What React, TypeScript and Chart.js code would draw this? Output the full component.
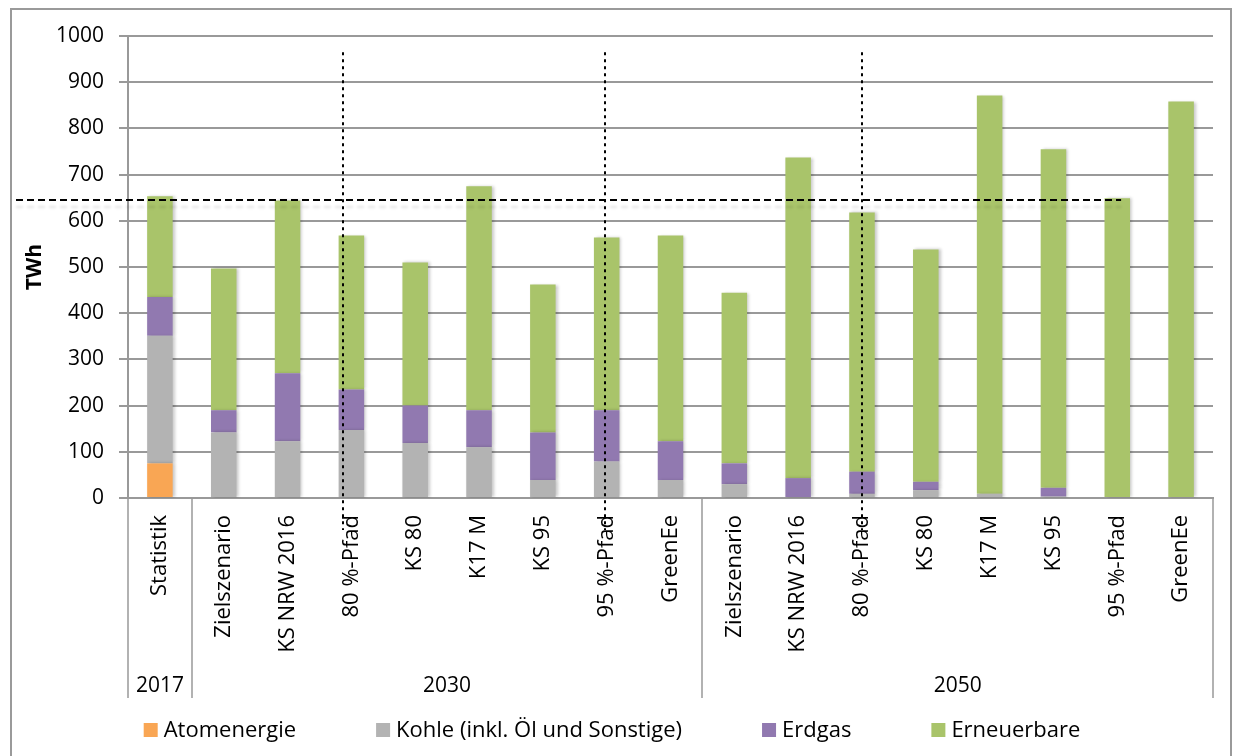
import React, { useEffect, useRef } from 'react';
import { Chart, registerables } from 'chart.js';

Chart.register(...registerables);

// ---------- data ----------
const categories = [
  'Statistik',
  'Zielszenario', 'KS NRW 2016', '80 %-Pfad', 'KS 80', 'K17 M', 'KS 95', '95 %-Pfad', 'GreenEe',
  'Zielszenario', 'KS NRW 2016', '80 %-Pfad', 'KS 80', 'K17 M', 'KS 95', '95 %-Pfad', 'GreenEe',
];
const groupLabels = ['2017', '2030', '2050'];
const groupSizes = [1, 8, 8];

const atomenergie = [75, 0, 0, 0, 0, 0, 0, 0, 0, 0, 0, 0, 0, 0, 0, 0, 0];
const kohle = [276, 142, 123, 147, 119, 110, 39, 79, 39, 30, 0, 9, 17, 9, 3, 0, 0];
const erdgas = [84, 48, 147, 88, 81, 80, 103, 111, 84, 45, 43, 48, 18, 0, 19, 0, 0];
const erneuerbare = [218, 307, 374, 333, 310, 485, 320, 374, 445, 369, 694, 561, 503, 862, 733, 649, 858];

const seriesNames = ['Atomenergie', 'Kohle (inkl. Öl und Sonstige)', 'Erdgas', 'Erneuerbare'];
const seriesColors = ['#F9A654', '#B3B3B3', '#9179B0', '#A9C46A'];

const yMin = 0;
const yMax = 1000;
const yStep = 100;
const yTitle = 'TWh';

// reference annotations (in data units)
const referenceLevel = 645;            // horizontal dashed line
const referenceEndCategory = 15.06;    // dashed line ends here (category index)
const markerCategories = [2.87, 6.97, 11.0]; // vertical dotted lines
const markerTopValue = 965;

const FONT = "'Open Sans', sans-serif";
const GRID = '#999999';

// ---------- plugins ----------
const framePlugin = {
  id: 'frame',
  beforeDraw(chart: any) {
    const { ctx, width, height } = chart;
    ctx.save();
    ctx.fillStyle = '#ffffff';
    ctx.fillRect(0, 0, width, height);
    ctx.strokeStyle = '#9a9a9a';
    ctx.lineWidth = 2;
    ctx.strokeRect(11, 9, width - 22, height + 10);
    ctx.restore();
  },
};

const shadowPlugin = {
  id: 'barShadow',
  beforeDatasetsDraw(chart: any) {
    const ctx = chart.ctx;
    ctx.save();
    ctx.shadowColor = 'rgba(0,0,0,0.22)';
    ctx.shadowBlur = 3;
    ctx.shadowOffsetX = 2;
    ctx.shadowOffsetY = 0;
  },
  afterDatasetsDraw(chart: any) {
    chart.ctx.restore();
  },
};

const referencePlugin = {
  id: 'referenceLines',
  afterDatasetsDraw(chart: any) {
    const { ctx, chartArea } = chart;
    const xs = chart.scales.x;
    const ys = chart.scales.y;
    ctx.save();
    // horizontal dashed line with soft shadow
    const yRef = Math.round(ys.getPixelForValue(referenceLevel));
    ctx.strokeStyle = '#000';
    ctx.lineWidth = 2;
    ctx.setLineDash([7, 4]);
    ctx.shadowColor = 'rgba(0,0,0,0.12)';
    ctx.shadowBlur = 3;
    ctx.shadowOffsetY = 7;
    ctx.beginPath();
    ctx.moveTo(16, yRef);
    ctx.lineTo(xs.getPixelForValue(referenceEndCategory), yRef);
    ctx.stroke();
    ctx.shadowColor = 'transparent';
    // vertical dotted lines
    ctx.setLineDash([3, 4]);
    const yTop = ys.getPixelForValue(markerTopValue);
    markerCategories.forEach((c) => {
      const x = Math.round(xs.getPixelForValue(c));
      ctx.beginPath();
      ctx.moveTo(x, yTop);
      ctx.lineTo(x, chartArea.bottom + 32);
      ctx.stroke();
    });
    ctx.restore();
  },
};

const groupPlugin = {
  id: 'groupAxis',
  afterDraw(chart: any) {
    const { ctx, chartArea } = chart;
    const xs = chart.scales.x;
    const bottom = chartArea.bottom + 200;
    ctx.save();
    ctx.strokeStyle = GRID;
    ctx.lineWidth = 1.5;
    let start = 0;
    const bounds = [0];
    groupSizes.forEach((s) => { start += s; bounds.push(start); });
    bounds.forEach((b) => {
      const x = Math.round(xs.getPixelForValue(b - 0.5));
      ctx.beginPath();
      ctx.moveTo(x, chartArea.bottom);
      ctx.lineTo(x, bottom);
      ctx.stroke();
    });
    ctx.fillStyle = '#000';
    ctx.font = `21px ${FONT}`;
    ctx.textAlign = 'center';
    ctx.textBaseline = 'middle';
    groupLabels.forEach((g, i) => {
      const x0 = xs.getPixelForValue(bounds[i] - 0.5);
      const x1 = xs.getPixelForValue(bounds[i + 1] - 0.5);
      ctx.fillText(g, (x0 + x1) / 2, chartArea.bottom + 188);
    });
    ctx.restore();
  },
};

const legendPlugin = {
  id: 'bottomLegend',
  afterDraw(chart: any) {
    const { ctx } = chart;
    ctx.save();
    ctx.font = `22px ${FONT}`;
    const box = 14;
    const gap = 6;
    const between = 80;
    const items = chart.data.datasets.map((ds: any) => ({
      label: ds.label,
      color: ds.backgroundColor,
      w: box + gap + ctx.measureText(ds.label).width,
    }));
    const total = items.reduce((a: number, it: any) => a + it.w, 0) + between * (items.length - 1);
    let x = chart.width / 2 - 9 - total / 2;
    const y = 730;
    ctx.textBaseline = 'middle';
    ctx.textAlign = 'left';
    items.forEach((it: any) => {
      ctx.fillStyle = it.color;
      ctx.fillRect(x, y - box / 2, box, box);
      ctx.fillStyle = '#000';
      ctx.fillText(it.label, x + box + gap, y + 1);
      x += it.w + between;
    });
    ctx.restore();
  },
};

export default function App() {
  const canvasRef = useRef<HTMLCanvasElement | null>(null);

  useEffect(() => {
    if (!canvasRef.current) return;
    const seriesData = [atomenergie, kohle, erdgas, erneuerbare];
    const chart = new Chart(canvasRef.current, {
      type: 'bar',
      data: {
        labels: categories,
        datasets: seriesNames.map((name, i) => ({
          label: name,
          data: seriesData[i],
          backgroundColor: seriesColors[i],
          borderWidth: 0,
          categoryPercentage: 1,
          barPercentage: 0.4,
        })),
      },
      options: {
        animation: false,
        responsive: false,
        devicePixelRatio: 1,
        layout: { padding: { top: 36, right: 29, left: 0, bottom: 0 } },
        plugins: {
          legend: { display: false },
          tooltip: { enabled: false },
        },
        scales: {
          x: {
            stacked: true,
            grid: { display: false, drawTicks: false },
            border: { display: true, color: GRID, width: 2 },
            ticks: {
              autoSkip: false,
              maxRotation: 90,
              minRotation: 90,
              padding: 17,
              color: '#000',
              font: { family: FONT, size: 22 },
            },
            afterFit(scale: any) { scale.height = 258; },
          },
          y: {
            stacked: true,
            min: yMin,
            max: yMax,
            grid: { color: GRID, lineWidth: 2, tickLength: 9 },
            border: { display: true, color: GRID, width: 2 },
            ticks: {
              stepSize: yStep,
              padding: 15,
              color: '#000',
              font: { family: FONT, size: 21 },
              callback: (v: any) => String(v),
            },
            title: {
              display: true,
              text: yTitle,
              color: '#000',
              font: { family: FONT, size: 21, weight: 'bold' },
              padding: { top: 22, bottom: 0 },
            },
            afterFit(scale: any) { scale.width = 128; },
          },
        },
      },
      plugins: [framePlugin, shadowPlugin, referencePlugin, groupPlugin, legendPlugin],
    });
    return () => chart.destroy();
  }, []);

  return (
    <div style={{ position: 'fixed', left: 0, top: 0, width: 1242, height: 756, background: '#fff' }}>
      <canvas ref={canvasRef} width={1242} height={756} style={{ display: 'block', width: 1242, height: 756 }} />
    </div>
  );
}
